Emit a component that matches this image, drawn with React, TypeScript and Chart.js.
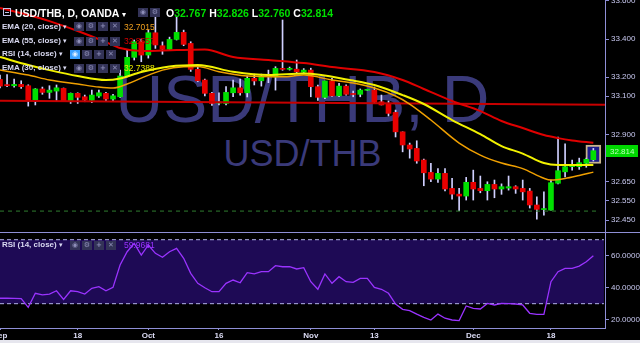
import React, { useEffect, useRef } from 'react';
import { Chart, registerables } from 'chart.js';

Chart.register(...registerables);

// ---------- DATA ----------
const opens = [33.188, 33.161, 33.155, 33.162, 33.155, 33.080, 33.138, 33.120, 33.127, 33.141, 33.075, 33.115, 33.097, 33.078, 33.101, 33.115, 33.085, 33.097, 33.206, 33.304, 33.386, 33.316, 33.433, 33.365, 33.346, 33.398, 33.435, 33.377, 33.241, 33.185, 33.115, 33.064, 33.062, 33.118, 33.144, 33.118, 33.194, 33.181, 33.206, 33.201, 33.246, 33.241, 33.242, 33.226, 33.237, 33.150, 33.094, 33.180, 33.102, 33.153, 33.113, 33.110, 33.131, 33.132, 33.071, 33.062, 33.015, 32.913, 32.844, 32.826, 32.765, 32.700, 32.665, 32.695, 32.616, 32.586, 32.576, 32.648, 32.616, 32.604, 32.637, 32.613, 32.618, 32.625, 32.616, 32.602, 32.529, 32.505, 32.502, 32.643, 32.703, 32.730, 32.730, 32.748, 32.767];
const highs = [33.211, 33.214, 33.190, 33.181, 33.160, 33.140, 33.148, 33.155, 33.159, 33.143, 33.117, 33.118, 33.106, 33.132, 33.132, 33.120, 33.110, 33.237, 33.342, 33.395, 33.400, 33.447, 33.552, 33.385, 33.410, 33.517, 33.447, 33.386, 33.253, 33.190, 33.120, 33.118, 33.150, 33.185, 33.190, 33.206, 33.216, 33.216, 33.237, 33.255, 33.500, 33.253, 33.290, 33.245, 33.247, 33.158, 33.180, 33.194, 33.167, 33.160, 33.127, 33.138, 33.136, 33.148, 33.106, 33.075, 33.027, 32.913, 32.854, 32.866, 32.770, 32.748, 32.720, 32.720, 32.669, 32.616, 32.674, 32.712, 32.681, 32.651, 32.660, 32.640, 32.681, 32.630, 32.660, 32.616, 32.572, 32.598, 32.660, 32.886, 32.850, 32.765, 32.775, 32.775, 32.826];
const lows = [33.143, 33.150, 33.148, 33.141, 33.048, 33.054, 33.110, 33.089, 33.076, 33.075, 33.062, 33.062, 33.071, 33.066, 33.094, 33.075, 33.075, 33.094, 33.201, 33.290, 33.281, 33.300, 33.351, 33.320, 33.340, 33.395, 33.365, 33.230, 33.176, 33.101, 33.052, 33.054, 33.054, 33.097, 33.105, 33.096, 33.159, 33.153, 33.171, 33.132, 33.236, 33.237, 33.223, 33.220, 33.097, 33.078, 33.087, 33.099, 33.097, 33.105, 33.097, 33.097, 33.130, 33.064, 33.054, 32.996, 32.886, 32.808, 32.775, 32.748, 32.630, 32.651, 32.648, 32.603, 32.559, 32.499, 32.555, 32.555, 32.593, 32.555, 32.567, 32.585, 32.607, 32.590, 32.555, 32.513, 32.454, 32.476, 32.502, 32.640, 32.677, 32.712, 32.716, 32.727, 32.760];
const closes = [33.153, 33.155, 33.162, 33.150, 33.080, 33.138, 33.120, 33.132, 33.144, 33.076, 33.115, 33.094, 33.080, 33.106, 33.118, 33.085, 33.102, 33.206, 33.304, 33.386, 33.316, 33.433, 33.369, 33.346, 33.398, 33.435, 33.372, 33.241, 33.181, 33.115, 33.062, 33.068, 33.120, 33.144, 33.118, 33.194, 33.180, 33.206, 33.202, 33.246, 33.241, 33.246, 33.228, 33.237, 33.150, 33.094, 33.180, 33.102, 33.153, 33.110, 33.109, 33.132, 33.134, 33.068, 33.054, 33.010, 32.913, 32.844, 32.823, 32.760, 32.698, 32.665, 32.695, 32.613, 32.586, 32.576, 32.648, 32.613, 32.604, 32.637, 32.613, 32.625, 32.625, 32.613, 32.598, 32.529, 32.506, 32.507, 32.646, 32.709, 32.730, 32.735, 32.751, 32.769, 32.814];

const ema55Idx = [0, 4, 7, 11, 15, 17, 20, 25, 29, 33, 38, 43, 47, 53, 57, 60, 64, 68, 71, 74, 77, 79, 81, 84];
const ema55Val = [33.563, 33.526, 33.494, 33.442, 33.384, 33.353, 33.337, 33.342, 33.345, 33.306, 33.290, 33.274, 33.253, 33.227, 33.185, 33.138, 33.075, 33.022, 32.970, 32.933, 32.896, 32.880, 32.868, 32.8557];

const ema30Idx = [0, 4, 7, 11, 15, 17, 20, 24, 28, 33, 38, 43, 50, 53, 57, 60, 64, 68, 71, 74, 77, 79, 82, 84];
const ema30Val = [33.306, 33.264, 33.237, 33.206, 33.185, 33.193, 33.227, 33.256, 33.264, 33.228, 33.211, 33.219, 33.182, 33.159, 33.106, 33.059, 32.975, 32.901, 32.838, 32.799, 32.749, 32.739, 32.739, 32.7388];

const ema20Idx = [0, 4, 7, 11, 14, 16, 18, 20, 23, 26, 28, 31, 35, 40, 43, 47, 50, 53, 56, 58, 61, 65, 68, 71, 74, 77, 78, 80, 82, 84];
const ema20Val = [33.237, 33.211, 33.185, 33.164, 33.148, 33.143, 33.164, 33.195, 33.237, 33.255, 33.256, 33.228, 33.206, 33.202, 33.211, 33.185, 33.169, 33.143, 33.101, 33.059, 32.975, 32.854, 32.791, 32.749, 32.720, 32.669, 32.660, 32.668, 32.684, 32.7015];

const rsiValues = [33.4, 33.4, 33.3, 33.2, 27.7, 36.5, 35.5, 36.0, 38.1, 32.7, 38.1, 37.5, 36.0, 39.6, 40.6, 38.1, 40.2, 54.2, 62.5, 67.7, 60.4, 66.7, 61.5, 59.0, 62.5, 64.6, 58.4, 49.0, 42.75, 40.0, 37.5, 37.5, 42.75, 44.8, 43.1, 49.4, 48.6, 50.0, 50.0, 53.75, 53.1, 53.1, 51.7, 52.5, 43.75, 39.0, 48.6, 42.75, 46.9, 43.75, 43.3, 45.8, 45.8, 40.2, 39.0, 36.5, 29.8, 26.5, 25.7, 23.5, 21.5, 19.8, 23.5, 20.9, 19.8, 19.4, 28.6, 27.1, 26.7, 30.2, 29.2, 30.2, 30.0, 29.8, 29.2, 24.0, 23.3, 23.3, 43.75, 50.0, 52.1, 52.1, 53.5, 56.2, 59.9681];

const trendX = [0, 85.65];
const trendY = [33.076, 33.055];
const supportX = [0, 84.9];
const supportY = [32.497, 32.497];
const rsiBandX = [0, 85.5];
const rsiUpper = 70;
const rsiLower = 30;

const priceTicks = [33.6, 33.4, 33.2, 33.1, 32.9, 32.65, 32.55, 32.45];
const rsiTicks = [20, 40, 60];
const dateTickIdx = [0, 11, 21, 31, 44, 53, 67, 78];
const dateTickLabels = ['Sep', '18', 'Oct', '16', 'Nov', '13', 'Dec', '18'];

// ---------- STYLE ----------
const X_MIN = 0;
const X_MAX = 85.65;
const PRICE_MIN = 32.382;
const PRICE_MAX = 33.605;
const RSI_MIN = 14.8;
const RSI_MAX = 74.2;

const AXIS = '#8f8fd6';
const TEXT = '#c8c8f0';
const FONT = "'Liberation Sans', Arial, sans-serif";
const GREEN = '#00e000';
const RED = '#e80000';
const WICK = '#d0d0ff';

const lastPricePlugin = {
  id: 'lastPrice',
  afterDraw(chart: any) {
    const y = chart.scales.y;
    const ctx = chart.ctx;
    const v = closes[closes.length - 1];
    const py = y.getPixelForValue(v);
    ctx.save();
    ctx.fillStyle = '#00d800';
    ctx.fillRect(y.left + 1, Math.round(py) - 6, 32, 12);
    ctx.fillStyle = '#b8ffb8';
    ctx.font = '8px ' + FONT;
    ctx.textBaseline = 'middle';
    ctx.textAlign = 'left';
    ctx.fillText(v.toFixed(3), y.left + 5, Math.round(py) + 0.5);
    ctx.restore();
  },
};

function IconBox({ left, top, glyph, active }: { left: number; top: number; glyph: string; active?: boolean }) {
  return (
    <div
      style={{
        position: 'absolute',
        left,
        top,
        width: 10,
        height: 9,
        background: active ? '#3aa0ff' : '#333357',
        color: active ? '#e0f0ff' : '#8e8eb8',
        fontSize: 7,
        lineHeight: '9px',
        textAlign: 'center',
        fontFamily: "'DejaVu Sans', sans-serif",
        fontWeight: 'bold',
      }}
    >
      {glyph}
    </div>
  );
}

function LegendRow({ name, value, color, center, iconLeft, active }: { name: string; value: string; color: string; center: number; iconLeft: number; active?: boolean }) {
  const top = center - 4.9;
  return (
    <>
      <div style={{ position: 'absolute', left: 2, top, fontSize: 8, lineHeight: '10px', fontWeight: 'bold', color: '#dadaf2', fontFamily: FONT, whiteSpace: 'nowrap' }}>
        {name} <span style={{ fontFamily: "'DejaVu Sans', sans-serif", fontSize: 7 }}>▾</span>
      </div>
      <IconBox left={iconLeft} top={center - 4.5} glyph="◉" active={active} />
      <IconBox left={iconLeft + 12} top={center - 4.5} glyph="⚙" />
      <IconBox left={iconLeft + 24} top={center - 4.5} glyph="+" />
      <IconBox left={iconLeft + 36} top={center - 4.5} glyph="✕" />
      {value ? (
        <div style={{ position: 'absolute', left: 124, top, fontSize: 8.5, lineHeight: '10px', color, fontFamily: FONT }}>{value}</div>
      ) : null}
    </>
  );
}

export default function App() {
  const mainRef = useRef<HTMLCanvasElement>(null);
  const rsiRef = useRef<HTMLCanvasElement>(null);

  useEffect(() => {
    document.body.style.margin = '0';
    document.body.style.background = '#000';
    const idx = closes.map((_, i) => i);
    const last = closes.length - 1;

    const main = new Chart(mainRef.current as HTMLCanvasElement, {
      type: 'bar',
      data: {
        datasets: [
          {
            type: 'line', label: 'EMA55', data: ema55Idx.map((x, i) => ({ x, y: ema55Val[i] })),
            borderColor: '#e00000', borderWidth: 2, pointRadius: 0, cubicInterpolationMode: 'monotone', order: 0,
          } as any,
          {
            type: 'line', label: 'EMA30', data: ema30Idx.map((x, i) => ({ x, y: ema30Val[i] })),
            borderColor: '#f2f200', borderWidth: 2, pointRadius: 0, cubicInterpolationMode: 'monotone', order: 0,
          },
          {
            type: 'line', label: 'EMA20', data: ema20Idx.map((x, i) => ({ x, y: ema20Val[i] })),
            borderColor: '#f0a000', borderWidth: 1.5, pointRadius: 0, cubicInterpolationMode: 'monotone', order: 0,
          },
          {
            type: 'line', label: 'trend', data: trendX.map((x, i) => ({ x, y: trendY[i] })),
            borderColor: '#c80000', borderWidth: 2, pointRadius: 0, order: 0,
          },
          {
            type: 'line', label: 'support', data: supportX.map((x, i) => ({ x, y: supportY[i] })),
            borderColor: '#2f7d2f', borderWidth: 1, borderDash: [4, 4], pointRadius: 0, order: 0,
          },
          {
            type: 'bar', label: 'body', data: idx.map((i) => ({ x: i, y: [opens[i], closes[i]] })),
            backgroundColor: idx.map((i) => (closes[i] >= opens[i] ? GREEN : RED)),
            barThickness: 5, grouped: false, minBarLength: 1, order: 1,
          },
          {
            type: 'bar', label: 'wick', data: idx.map((i) => ({ x: i, y: [lows[i], highs[i]] })),
            backgroundColor: WICK, barThickness: 1, grouped: false, order: 2,
          },
          {
            type: 'bar', label: 'highlight', data: [{ x: last, y: [lows[last] - 0.013, highs[last] + 0.018] }],
            backgroundColor: '#1c1c8c', borderColor: '#c8b48c', borderWidth: 2, borderSkipped: false,
            barThickness: 15, grouped: false, order: 3,
          },
        ] as any,
      },
      options: {
        animation: false,
        responsive: false,
        devicePixelRatio: 1,
        events: [],
        layout: { padding: 0 },
        plugins: { legend: { display: false }, tooltip: { enabled: false } },
        scales: {
          x: { type: 'linear', min: X_MIN, max: X_MAX, display: false, offset: false },
          y: {
            type: 'linear', position: 'right', min: PRICE_MIN, max: PRICE_MAX,
            afterBuildTicks: (s: any) => { s.ticks = priceTicks.map((v) => ({ value: v })); },
            afterFit: (s: any) => { s.width = 35; s.paddingTop = 0; s.paddingBottom = 0; },
            ticks: { color: TEXT, font: { size: 8, family: FONT }, padding: 2, callback: (v: any) => Number(v).toFixed(3) },
            grid: { display: true, drawOnChartArea: false, drawTicks: true, tickLength: 4, color: AXIS },
            border: { display: true, color: AXIS, width: 1 },
          },
        },
      } as any,
      plugins: [lastPricePlugin],
    });

    const rsi = new Chart(rsiRef.current as HTMLCanvasElement, {
      type: 'line',
      data: {
        datasets: [
          {
            label: 'RSI', data: rsiValues.map((v, i) => ({ x: i, y: v })),
            borderColor: '#9a33ff', borderWidth: 1.3, pointRadius: 0, order: 0, tension: 0,
          },
          {
            label: 'upper', data: rsiBandX.map((x) => ({ x, y: rsiUpper })),
            borderColor: '#b4b4ea', borderWidth: 1, borderDash: [4, 3], pointRadius: 0, order: 1,
          },
          {
            label: 'lower', data: rsiBandX.map((x) => ({ x, y: rsiLower })),
            borderColor: '#b4b4ea', borderWidth: 1, borderDash: [4, 3], pointRadius: 0, order: 2,
            fill: '-1', backgroundColor: '#1e0a55',
          },
        ] as any,
      },
      options: {
        animation: false,
        responsive: false,
        devicePixelRatio: 1,
        events: [],
        layout: { padding: 0 },
        plugins: { legend: { display: false }, tooltip: { enabled: false } },
        scales: {
          x: {
            type: 'linear', min: X_MIN, max: X_MAX, position: 'bottom', offset: false,
            afterBuildTicks: (s: any) => { s.ticks = dateTickIdx.map((v) => ({ value: v })); },
            afterFit: (s: any) => { s.height = 15; s.paddingLeft = 0; s.paddingRight = 0; },
            ticks: {
              autoSkip: false, maxRotation: 0, minRotation: 0, padding: 1, color: '#dcdcf5',
              font: { size: 8, weight: 'bold', family: FONT },
              callback: (_v: any, i: number) => dateTickLabels[i],
            },
            grid: { display: true, drawOnChartArea: false, drawTicks: true, tickLength: 2, color: AXIS },
            border: { display: true, color: AXIS, width: 1 },
          },
          y: {
            type: 'linear', position: 'right', min: RSI_MIN, max: RSI_MAX,
            afterBuildTicks: (s: any) => { s.ticks = rsiTicks.map((v) => ({ value: v })); },
            afterFit: (s: any) => { s.width = 35; s.paddingTop = 0; s.paddingBottom = 0; },
            ticks: { color: TEXT, font: { size: 8, family: FONT }, padding: 2, callback: (v: any) => Number(v).toFixed(4) },
            grid: { display: true, drawOnChartArea: false, drawTicks: true, tickLength: 4, color: AXIS },
            border: { display: true, color: AXIS, width: 1 },
          },
        },
      } as any,
    });

    return () => {
      main.destroy();
      rsi.destroy();
    };
  }, []);

  const last = closes.length - 1;
  const ohlc: [string, number][] = [['O', opens[last]], ['H', highs[last]], ['L', lows[last]], ['C', closes[last]]];

  return (
    <div style={{ position: 'fixed', left: 0, top: 0, width: 640, height: 343, background: '#000', overflow: 'hidden', fontFamily: FONT }}>
      {/* watermark */}
      <div style={{ position: 'absolute', left: 0, top: 66, width: 605, textAlign: 'center', fontSize: 66, lineHeight: '66px', color: '#3a3a7a', fontFamily: FONT, whiteSpace: 'nowrap' }}>
        USD/THB, D
      </div>
      <div style={{ position: 'absolute', left: 0, top: 136, width: 605, textAlign: 'center', fontSize: 36, lineHeight: '36px', color: '#3a3a7a', fontFamily: FONT, whiteSpace: 'nowrap' }}>
        USD/THB
      </div>

      <canvas ref={mainRef} width={640} height={233} style={{ position: 'absolute', left: 0, top: 0 }} />
      <canvas ref={rsiRef} width={640} height={110} style={{ position: 'absolute', left: 0, top: 233 }} />
      <div style={{ position: 'absolute', left: 0, top: 232, width: 640, height: 1, background: AXIS }} />
      <div style={{ position: 'absolute', left: 0, top: 340, width: 640, height: 3, background: '#e6e6ee' }} />

      {/* header */}
      <div style={{ position: 'absolute', left: 3, top: 8, width: 8, height: 8, border: '1px solid #c4c4e8', boxSizing: 'border-box' }}>
        <div style={{ position: 'absolute', left: 1, top: 2.5, width: 4, height: 1, background: '#c4c4e8' }} />
      </div>
      <div style={{ position: 'absolute', left: 15, top: 7, fontSize: 10.5, lineHeight: '12px', fontWeight: 'bold', color: '#ffffff', whiteSpace: 'nowrap' }}>
        USD/THB, D, OANDA <span style={{ fontFamily: "'DejaVu Sans', sans-serif", fontSize: 8 }}>▾</span>
      </div>
      <IconBox left={138} top={8} glyph="◉" />
      <IconBox left={150} top={8} glyph="⚙" />
      <div style={{ position: 'absolute', left: 166, top: 7, fontSize: 10.5, lineHeight: '12px', fontWeight: 'bold', whiteSpace: 'nowrap' }}>
        {ohlc.map(([k, v], i) => (
          <span key={k}>
            <span style={{ color: '#ffffff' }}>{k}</span>
            <span style={{ color: '#00e000' }}>{v.toFixed(3)}</span>
            {i < ohlc.length - 1 ? ' ' : ''}
          </span>
        ))}
      </div>

      {/* indicator legends */}
      <LegendRow name="EMA (20, close)" value={ema20Val[ema20Val.length - 1].toFixed(4)} color="#f0a020" center={26.7} iconLeft={74} />
      <LegendRow name="EMA (55, close)" value={ema55Val[ema55Val.length - 1].toFixed(4)} color="#d80000" center={41} iconLeft={74} />
      <LegendRow name="RSI (14, close)" value="" color="" center={54.3} iconLeft={70} active />
      <LegendRow name="EMA (30, close)" value={ema30Val[ema30Val.length - 1].toFixed(4)} color="#eaea00" center={68.3} iconLeft={74} />

      <LegendRow name="RSI (14, close)" value={rsiValues[rsiValues.length - 1].toFixed(4)} color="#9a33ff" center={245} iconLeft={70} />
    </div>
  );
}
